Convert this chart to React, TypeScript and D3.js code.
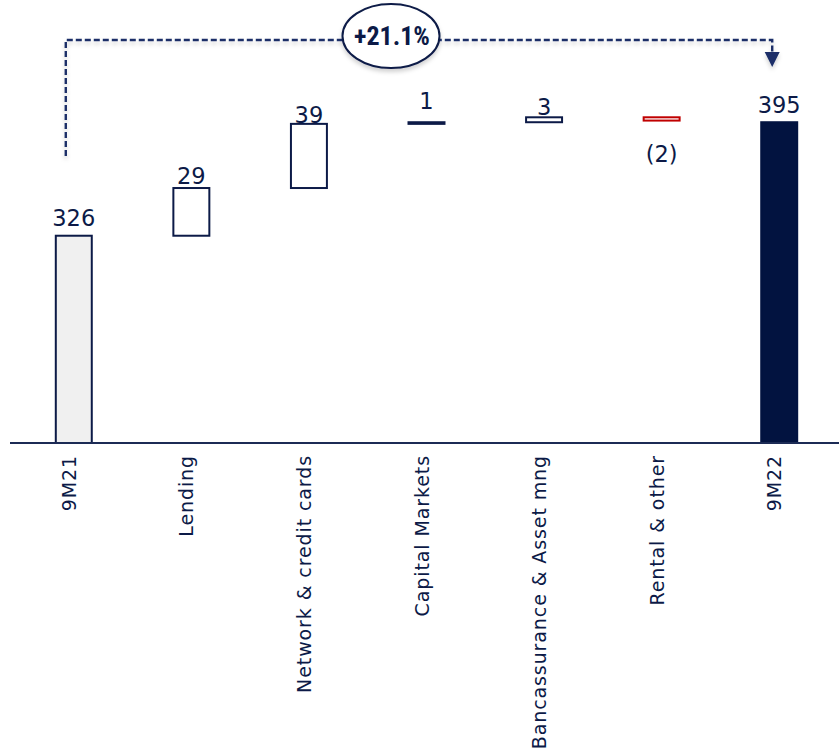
import React from "react";
import * as d3 from "d3";

// Waterfall: 9M21 → 9M22 bridge (€ m)
const categories = [
  "9M21",
  "Lending",
  "Network & credit cards",
  "Capital Markets",
  "Bancassurance & Asset mng",
  "Rental & other",
  "9M22",
];
const deltas = [326, 29, 39, 1, 3, -2, 395];
const isTotal = [true, false, false, false, false, false, true];
const valueLabels = ["326", "29", "39", "1", "3", "(2)", "395"];
const growthLabel = "+21.1%";

const W = 839;
const H = 752;
const NAVY = "#0c1a47";
const NAVY_DARK = "#021340";
const LINE = "#1b2f68";
const RED = "#c00000";

// vertical gap between a bar's top and its value label baseline
const labelGap: Record<string, number> = {
  "9M21": 10,
  Lending: 4,
  "Network & credit cards": 1,
  "Capital Markets": 13,
  "Bancassurance & Asset mng": 2,
  "9M22": 9,
};

export default function App() {
  const baseY = 443;
  const x = d3
    .scaleBand<string>()
    .domain(categories)
    .range([15, 838])
    .paddingInner(0.694)
    .paddingOuter(0.347);
  const y = d3.scaleLinear().domain([200, 400]).range([baseY, baseY - 329]);

  // running totals for floating bars
  let running = 0;
  const bars = categories.map((c, i) => {
    let start: number, end: number;
    if (isTotal[i]) {
      start = 200;
      end = deltas[i];
      running = deltas[i];
    } else {
      start = running;
      end = running + deltas[i];
      running = end;
    }
    return { c, i, start, end, delta: deltas[i] };
  });

  const xc = (c: string) => (x(c) as number) + x.bandwidth() / 2;
  const leftX = xc("9M21") - 8;
  const rightX = xc("9M22") - 7;
  const bracketY = 40;
  const ellCx = 391;
  const ellCy = 36;

  return (
    <svg
      width={W}
      height={H}
      style={{ position: "absolute", left: 0, top: 0, background: "#fff" }}
      fontFamily="'DejaVu Sans', sans-serif"
    >
      <defs>
        <filter id="soft" x="-5%" y="-50%" width="110%" height="200%">
          <feDropShadow dx="0" dy="3" stdDeviation="2" floodColor="#000" floodOpacity="0.18" />
        </filter>
      </defs>

      {/* growth bracket */}
      <g filter="url(#soft)">
        <path
          d={`M${leftX},156 V${bracketY} H${rightX} V53`}
          fill="none"
          stroke={LINE}
          strokeWidth={2.4}
          strokeDasharray="6,3"
        />
        <path
          d={`M${rightX - 7.5},52 L${rightX + 7.5},52 L${rightX},67 Z`}
          fill={LINE}
        />
        <ellipse cx={ellCx} cy={ellCy} rx={48.5} ry={32} fill="#fff" stroke={NAVY} strokeWidth={2} />
      </g>
      <text
        x={ellCx + 1}
        y={45}
        textAnchor="middle"
        fontFamily="'Liberation Sans Narrow', 'Roboto Condensed', Roboto, sans-serif"
        fontWeight={700}
        fontSize={26}
        fill={NAVY}
      >
        {growthLabel}
      </text>

      {/* bars */}
      {bars.map((b) => {
        const top = y(Math.max(b.start, b.end));
        const bot = y(Math.min(b.start, b.end));
        const i = b.i;
        let fill = "#fff";
        let stroke = NAVY;
        if (i === 0) fill = "#f0f0f0";
        if (i === categories.length - 1) {
          fill = NAVY_DARK;
          stroke = NAVY_DARK;
        }
        if (b.delta < 0) stroke = RED;
        return (
          <rect
            key={b.c}
            x={x(b.c)}
            y={top}
            width={x.bandwidth()}
            height={Math.max(bot - top, 0.5)}
            fill={fill}
            stroke={stroke}
            strokeWidth={2}
          />
        );
      })}

      {/* value labels */}
      {bars.map((b) => {
        const top = y(Math.max(b.start, b.end));
        const bot = y(Math.min(b.start, b.end));
        const ly = b.delta < 0 ? bot + 41 : top - (labelGap[b.c] ?? 4);
        return (
          <text
            key={"v" + b.c}
            x={xc(b.c)}
            y={ly}
            textAnchor="middle"
            fontSize={22.5}
            fill={NAVY}
          >
            {valueLabels[b.i]}
          </text>
        );
      })}

      {/* baseline */}
      <line x1={10} x2={839} y1={baseY} y2={baseY} stroke="#1c2b55" strokeWidth={2} />

      {/* category labels */}
      {categories.map((c) => (
        <text
          key={"c" + c}
          transform={`translate(${xc(c) + 2},455) rotate(-90)`}
          textAnchor="end"
          fontSize={19}
          letterSpacing={0.9}
          fill={NAVY}
        >
          {c}
        </text>
      ))}
    </svg>
  );
}
